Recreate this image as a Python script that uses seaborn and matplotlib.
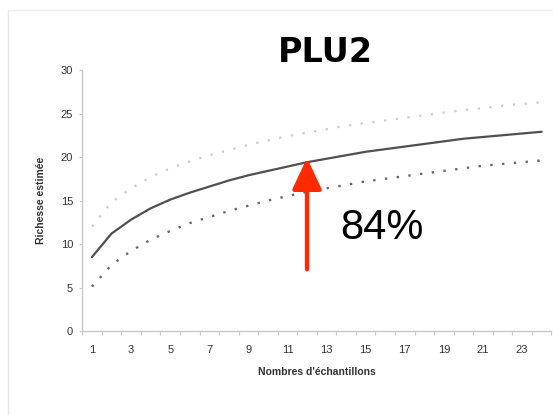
import matplotlib
matplotlib.use("Agg")
import matplotlib.pyplot as plt
import seaborn as sns
import pandas as pd
import numpy as np

# Data
samples = list(range(1, 25))
richness = [8.5, 11.2, 12.8, 14.1, 15.1, 15.9, 16.6, 17.3, 17.9, 18.4, 18.9, 19.4,
            19.8, 20.2, 20.6, 20.9, 21.2, 21.5, 21.8, 22.1, 22.3, 22.5, 22.7, 22.9]
lower_ci = [5.1, 7.6, 9.2, 10.5, 11.5, 12.4, 13.1, 13.8, 14.4, 15.0, 15.5, 16.0,
            16.4, 16.8, 17.2, 17.5, 17.8, 18.1, 18.4, 18.7, 19.0, 19.2, 19.4, 19.6]
upper_ci = [12.0, 14.8, 16.4, 17.7, 18.7, 19.5, 20.2, 20.8, 21.4, 21.9, 22.4, 22.8,
            23.2, 23.6, 23.9, 24.2, 24.5, 24.8, 25.1, 25.4, 25.6, 25.9, 26.1, 26.3]
xtick_labels = [1, 3, 5, 7, 9, 11, 13, 15, 17, 19, 21, 23]
ytick_labels = [0, 5, 10, 15, 20, 25, 30]
title = "PLU2"
annotation_text = "84%"
arrow_sample = 12
arrow_base = 7.1

sns.set_theme(style="white")
plt.rcParams['font.family'] = ['Liberation Sans', 'DejaVu Sans']

df = pd.DataFrame({"x": samples, "rich": richness, "lo": lower_ci, "hi": upper_ci})

fig = plt.figure(figsize=(5.53, 4.15), dpi=100)
ax = fig.add_axes([82.2 / 553, 1 - 331 / 415, (551.4 - 82.2) / 553, (331 - 70) / 415])

sns.lineplot(data=df, x="x", y="hi", ax=ax, color="#cfcfcf", linewidth=1.7,
             linestyle=(0, (1, 4)), dash_capstyle="butt")
sns.lineplot(data=df, x="x", y="lo", ax=ax, color="#6a6a6a", linewidth=1.7,
             linestyle=(0, (1, 4)), dash_capstyle="butt")
sns.lineplot(data=df, x="x", y="rich", ax=ax, color="#505050", linewidth=1.6)

ax.set_xlim(0.5, 24.5)
ax.set_ylim(0, 30)
ax.set_xticks(xtick_labels)
ax.set_xticklabels([str(v) for v in xtick_labels])
ax.set_xticks(np.arange(0.5, 25, 1), minor=True)
ax.set_yticks(ytick_labels)
ax.set_yticklabels([str(v) for v in ytick_labels])
ax.tick_params(axis="both", which="both", colors="#c8c8c8", labelcolor="#333333",
               labelsize=8, width=0.8, direction="out")
ax.tick_params(axis="x", which="major", bottom=True, length=0, pad=10)
ax.tick_params(axis="x", which="minor", bottom=True, length=3)
ax.tick_params(axis="y", which="major", left=True, length=2.5, pad=4)
for s in ["top", "right"]:
    ax.spines[s].set_visible(False)
for s in ["left", "bottom"]:
    ax.spines[s].set_color("#c8c8c8")
    ax.spines[s].set_linewidth(1.0)

ax.set_xlabel("Nombres d'échantillons", fontsize=7.5, fontweight="bold", color="#333333", labelpad=9)
ax.set_ylabel("Richesse estimée", fontsize=7.5, fontweight="bold", color="#333333", labelpad=11)

fig.text(325 / 553, 1 - 52 / 415, title, fontsize=24, fontweight="bold", color="black",
         ha="center", va="center", family=["DejaVu Sans"])

tip_y = richness[samples.index(arrow_sample)] + 0.5
ax.annotate("", xy=(arrow_sample, tip_y), xytext=(arrow_sample, arrow_base),
            arrowprops=dict(arrowstyle="-|>,head_length=1.6,head_width=0.75",
                            color="#ff2a00", lw=3.2, shrinkA=0, shrinkB=0))
fig.text(382 / 553, 1 - 228 / 415, annotation_text, fontsize=30, color="black",
         ha="center", va="center")

# slide frame remnants
fig.add_artist(plt.Line2D([8 / 553, 8 / 553], [0, 1 - 10 / 415], color="#e6e6e6", lw=1))
fig.add_artist(plt.Line2D([8 / 553, 1], [1 - 10 / 415, 1 - 10 / 415], color="#eeeeee", lw=1))

fig.savefig("out.png", dpi=100)
